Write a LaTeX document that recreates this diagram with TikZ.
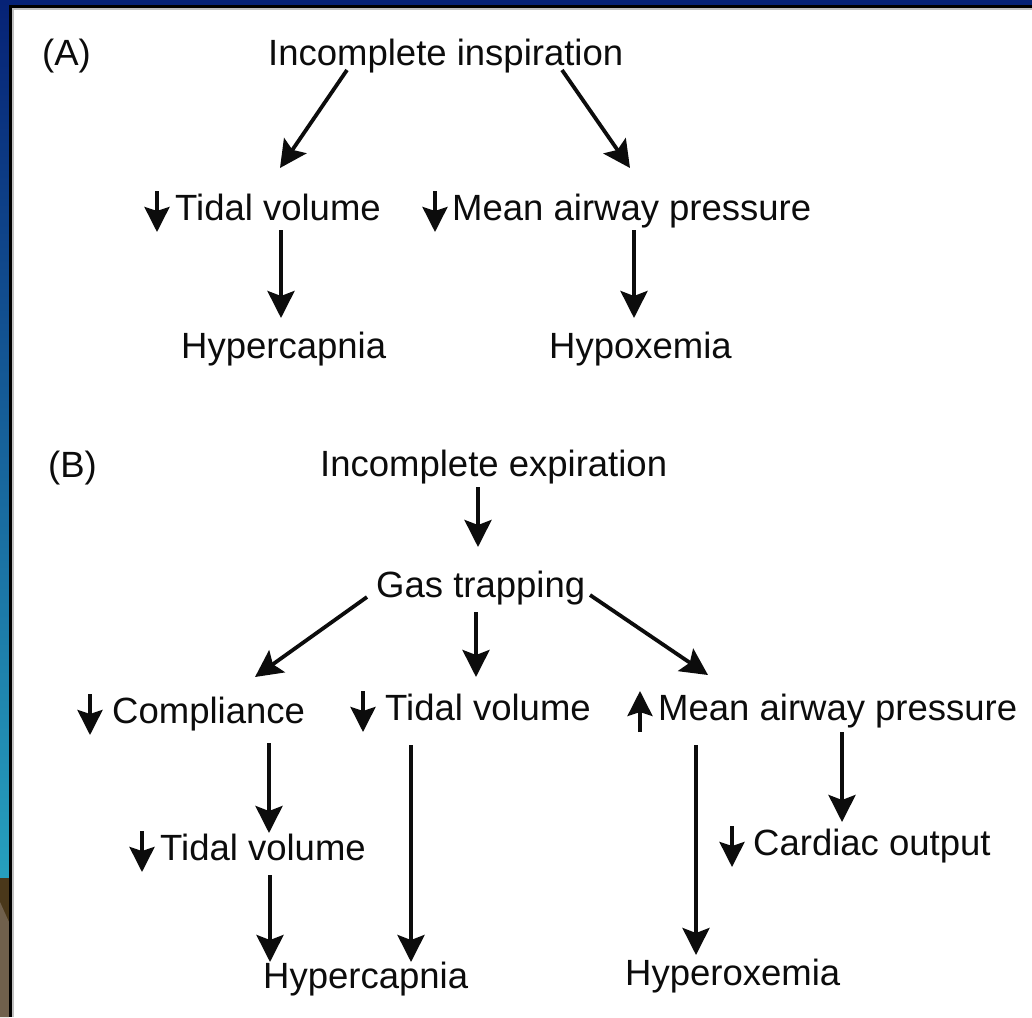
\documentclass[tikz,border=0pt]{standalone}
\usepackage{fontspec}
\setmainfont{Liberation Sans}
\usepackage{tikz}
\usetikzlibrary{arrows.meta,calc}
\definecolor{framecol}{RGB}{6,34,118}
\definecolor{skycol}{RGB}{38,160,190}
\definecolor{soilcol}{RGB}{74,56,26}
\definecolor{sandcol}{RGB}{112,96,76}
\definecolor{inkcol}{RGB}{12,12,12}
% small change arrows drawn left of a label
\newcommand\fall[2][18]{\draw[chg] ($(#2.base west)+(-#1,-29)$) -- ($(#2.base west)+(-#1,12)$);}
\newcommand\rise[2][18]{\draw[chg] ($(#2.base west)+(-#1,12)$) -- ($(#2.base west)+(-#1,-29)$);}

\begin{document}
\begin{tikzpicture}[x=1pt,y=-1pt,
  lbl/.style={anchor=base west,inner sep=0pt,text=inkcol,font=\fontsize{36.5}{40}\selectfont},
  conn/.style={draw=inkcol,line width=3.8pt,-{Stealth[length=27pt,width=27pt,inset=5pt]}},
  chg/.style={draw=inkcol,line width=3.4pt,-{Stealth[length=25pt,width=25pt,inset=4pt]}}]
  \useasboundingbox (0,0) rectangle (1032,1017);
  % frame
  \fill[white] (0,0) rectangle (1032,1017);
  \shade[top color=framecol,bottom color=skycol] (0,0) rectangle (9,878);
  \fill[soilcol] (0,878) rectangle (9,1017);
  \fill[sandcol] (0,902) -- (9,922) -- (9,1017) -- (0,1017) -- cycle;
  \fill[framecol] (0,0) rectangle (1032,5);
  \fill[black] (9,5) rectangle (1032,8);
  \fill[black] (9,5) rectangle (12,1017);
  \fill[black!25] (12,8) rectangle (1032,10);
  \fill[black!25] (12,8) rectangle (14,1017);

  % panel A
  \node[lbl] (pa) at (42,65) {(A)};
  \node[lbl] (inci) at (268,65) {Incomplete inspiration};
  \node[lbl] (tva) at (175,220) {Tidal volume};
  \node[lbl] (mapa) at (452,220) {Mean airway pressure};
  \node[lbl] (hypa) at (181,358) {Hypercapnia};
  \node[lbl] (hypo) at (549,358) {Hypoxemia};
  \fall{tva}
  \fall[17]{mapa}
  \draw[conn] ($(inci.base west)+(79,5)$) -- ($(tva.base west)+(105,-52)$);
  \draw[conn] ($(inci.base west)+(294,5)$) -- ($(mapa.base west)+(178,-52)$);
  \draw[conn] ($(tva.base west)+(106,10)$) -- ($(hypa.base west)+(100,-40)$);
  \draw[conn] ($(mapa.base west)+(182,10)$) -- ($(hypo.base west)+(85,-40)$);

  % panel B
  \node[lbl] (pb) at (48,477) {(B)};
  \node[lbl] (ince) at (320,476) {Incomplete expiration};
  \node[lbl] (gas) at (376,597) {Gas trapping};
  \node[lbl] (comp) at (112,723) {Compliance};
  \node[lbl] (tvb) at (385,720) {Tidal volume};
  \node[lbl] (mapb) at (658,720) {Mean airway pressure};
  \node[lbl] (tvc) at (160,860) {Tidal volume};
  \node[lbl] (co) at (753,855) {Cardiac output};
  \node[lbl] (hypb) at (263,988) {Hypercapnia};
  \node[lbl] (hypx) at (625,985) {Hyperoxemia};
  \fall[22]{comp}
  \fall[22]{tvb}
  \rise{mapb}
  \fall{tvc}
  \fall[21]{co}
  \draw[conn] ($(ince.base west)+(158,11)$) -- ($(gas.base west)+(102,-50)$);
  \draw[conn] ($(gas.base west)+(-9,0)$) -- ($(comp.base west)+(143,-46)$);
  \draw[conn] ($(gas.base west)+(100,15)$) -- ($(tvb.base west)+(91,-43)$);
  \draw[conn] ($(gas.base west)+(214,-2)$) -- ($(mapb.base west)+(50,-45)$);
  \draw[conn] ($(comp.base west)+(157,20)$) -- ($(tvc.base west)+(109,-27)$);
  \draw[conn] ($(tvc.base west)+(110,15)$) -- ($(hypb.base west)+(7,-26)$);
  \draw[conn] ($(tvb.base west)+(26,25)$) -- ($(hypb.base west)+(148,-26)$);
  \draw[conn] ($(mapb.base west)+(38,25)$) -- ($(hypx.base west)+(71,-30)$);
  \draw[conn] ($(mapb.base west)+(184,12)$) -- ($(co.base west)+(89,-33)$);
\end{tikzpicture}
\end{document}
